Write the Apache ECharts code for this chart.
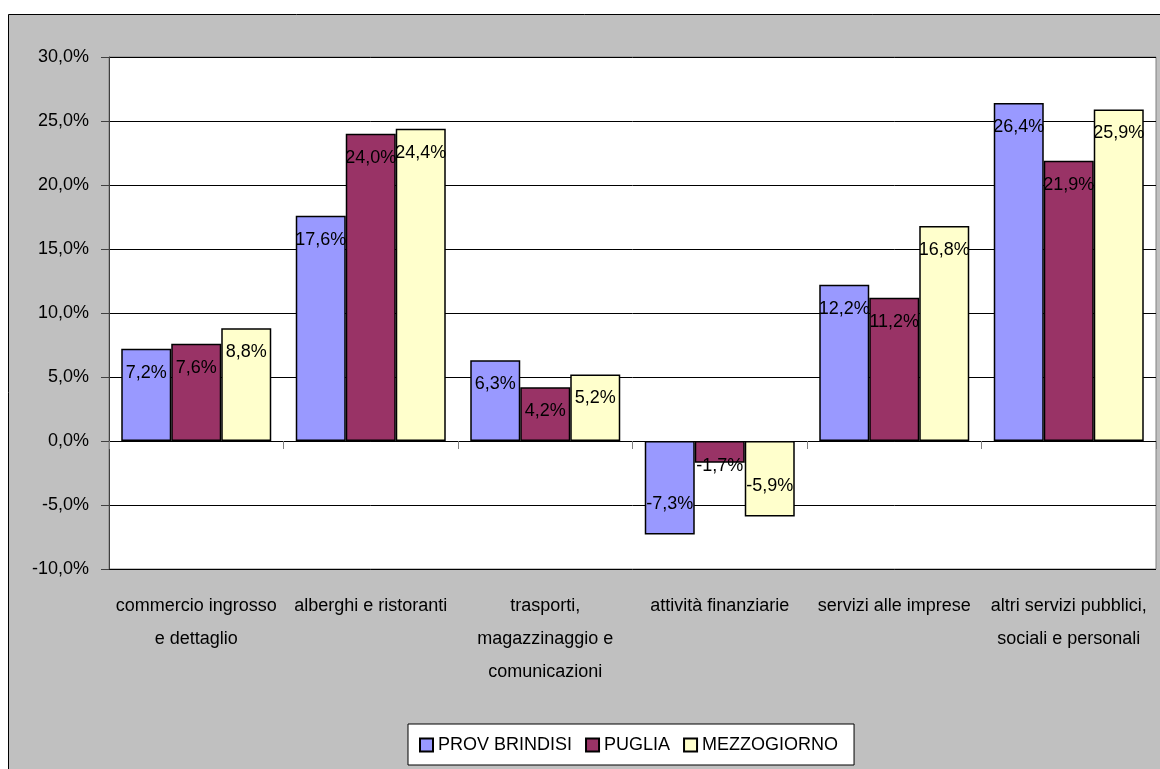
<!DOCTYPE html>
<html>
<head>
<meta charset="utf-8">
<script src="https://cdn.jsdelivr.net/npm/echarts@6/dist/echarts.min.js"></script>
<style>
  html, body { margin: 0; padding: 0; background: #fff; }
  #chart { width: 1160px; height: 769px; }
</style>
</head>
<body>
<div id="chart"></div>
<script>
const categories = [
  "commercio ingrosso\ne dettaglio",
  "alberghi e ristoranti",
  "trasporti,\nmagazzinaggio e\ncomunicazioni",
  "attività finanziarie",
  "servizi alle imprese",
  "altri servizi pubblici,\nsociali e personali"
];
const seriesNames = ["PROV BRINDISI", "PUGLIA", "MEZZOGIORNO"];
const brindisi = [7.2, 17.6, 6.3, -7.3, 12.2, 26.4];
const puglia = [7.6, 24.0, 4.2, -1.7, 11.2, 21.9];
const mezzogiorno = [8.8, 24.4, 5.2, -5.9, 16.8, 25.9];
const colors = ["#9999FF", "#993366", "#FFFFCC"];

const font = "'Liberation Sans', Arial, sans-serif";

function pct(v) {
  return v.toFixed(1).replace(".", ",") + "%";
}

// label near the end of the bar, flipped for negatives
function makeData(values) {
  return values.map(function (v) {
    let label;
    if (v >= 0) {
      label = { position: "insideTop", distance: 15 };
    } else if (v > -3) {
      label = { position: "bottom", distance: -6 };
    } else {
      label = { position: "insideBottom", distance: 21 };
    }
    return { value: v, label: label };
  });
}

function makeSeries(name, values, i) {
  return {
    name: name,
    type: "bar",
    barWidth: 50,
    barGap: "0%",
    data: makeData(values),
    itemStyle: { color: colors[i], borderColor: "#000", borderWidth: 1.5 },
    label: {
      show: true,
      color: "#000",
      fontFamily: font,
      fontSize: 18,
      formatter: function (p) { return pct(p.value); }
    }
  };
}

const chart = echarts.init(document.getElementById("chart"));
chart.setOption({
  animation: false,
  backgroundColor: "#fff",
  graphic: [{
    type: "rect",
    z: -100,
    silent: true,
    shape: { x: 8.5, y: 14.5, width: 1160, height: 800 },
    style: { fill: "#C0C0C0", stroke: "#000", lineWidth: 1 }
  }],
  grid: {
    left: 109, right: 4, top: 57, bottom: 200,
    show: true, backgroundColor: "#fff", borderColor: "#808080", borderWidth: 1
  },
  legend: {
    left: 408, top: 724,
    backgroundColor: "#fff", borderColor: "#000", borderWidth: 1,
    padding: [12, 16, 11, 11],
    itemWidth: 13, itemHeight: 13, itemGap: 13,
    icon: "rect",
    textStyle: { fontFamily: font, fontSize: 18, color: "#000" },
    data: seriesNames
  },
  xAxis: [{
    type: "category",
    data: categories,
    axisLine: { onZero: true, lineStyle: { color: "#000", width: 1 } },
    axisTick: { show: true, length: 8, lineStyle: { color: "#808080" } },
    axisLabel: { show: false },
    splitLine: { show: false }
  }, {
    type: "category",
    data: categories,
    position: "bottom",
    axisLine: { show: false, onZero: false },
    axisTick: { show: false },
    axisLabel: {
      interval: 0, margin: 21, color: "#000",
      fontFamily: font, fontSize: 18, lineHeight: 33
    }
  }],
  yAxis: {
    type: "value",
    min: -10, max: 30, interval: 5,
    axisLine: { show: true, lineStyle: { color: "#404040" } },
    axisTick: { show: true, length: 8, lineStyle: { color: "#404040" } },
    axisLabel: {
      margin: 20, color: "#000", fontFamily: font, fontSize: 18,
      formatter: function (v) { return pct(v); }
    },
    splitLine: { show: true, lineStyle: { color: "#000", width: 1 } }
  },
  series: [
    makeSeries(seriesNames[0], brindisi, 0),
    makeSeries(seriesNames[1], puglia, 1),
    makeSeries(seriesNames[2], mezzogiorno, 2)
  ]
});
</script>
</body>
</html>
